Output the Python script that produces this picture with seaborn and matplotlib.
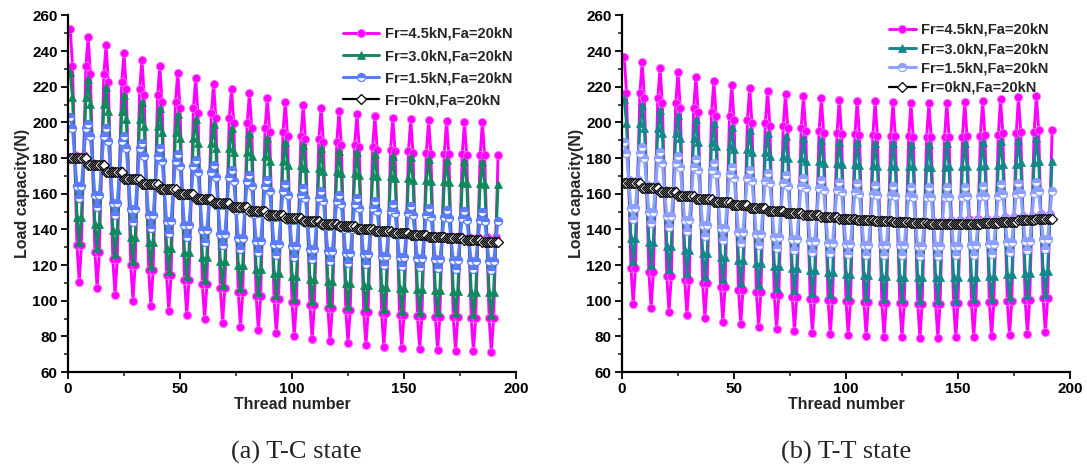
import numpy as np
import matplotlib
matplotlib.use("Agg")
import matplotlib.pyplot as plt
import seaborn as sns
from matplotlib.ticker import MultipleLocator

sns.set_theme(style="ticks")
plt.rcParams['font.family'] = ['Liberation Sans', 'DejaVu Sans']
plt.rcParams['font.weight'] = 'bold'
plt.rcParams['axes.labelweight'] = 'bold'

# ---------------- data ----------------
threads = np.arange(1, 193)                      # thread number 1..192 (8 threads per turn)
phase_profile = [1.0, 0.71, 0.0, -0.71, -1.0, -0.71, 0.0, 0.71]   # within-turn shape

# (a) T-C state : per-turn peak (thread 1+8k) and trough (thread 5+8k)
tc_peak_45 = [252.5, 247.8, 243.2, 238.9, 235.2, 231.4, 227.9, 224.7, 221.7, 218.9, 216.3, 213.9,
              211.7, 209.7, 208.0, 206.4, 204.9, 203.6, 202.7, 201.7, 201.2, 200.8, 200.2, 200.2]
tc_trough_45 = [110.6, 106.9, 103.2, 100.0, 97.0, 94.3, 91.8, 89.5, 87.5, 85.4, 83.3, 81.7,
                80.0, 78.5, 77.2, 76.0, 75.1, 74.1, 73.4, 72.8, 72.3, 71.9, 71.7, 71.5]
tc_peak_30 = [228.2, 224.2, 219.8, 215.6, 211.6, 207.9, 204.5, 201.7, 198.9, 196.7, 193.9, 191.1,
              189.0, 187.3, 185.6, 184.1, 183.2, 182.3, 181.3, 180.4, 179.5, 178.9, 178.4, 178.0]
tc_trough_30 = [133.1, 129.4, 126.0, 122.5, 119.5, 116.5, 114.0, 111.5, 109.0, 107.0, 105.0, 103.0,
                101.0, 99.6, 98.5, 97.3, 96.2, 95.3, 94.5, 93.9, 93.4, 93.0, 92.6, 92.2]
tc_peak_15 = [203.2, 199.1, 196.7, 192.4, 188.3, 185.5, 182.1, 178.9, 176.1, 173.3, 170.5, 167.7,
              165.5, 163.5, 161.5, 159.5, 157.5, 155.8, 154.3, 153.0, 151.8, 150.9, 150.2, 149.6]
tc_trough_15 = [157.8, 152.7, 148.0, 144.3, 141.0, 138.0, 135.5, 133.0, 131.0, 129.0, 127.3, 125.8,
                124.5, 123.3, 122.3, 121.4, 120.6, 119.9, 119.3, 118.8, 118.4, 118.0, 117.7, 117.4]
tc_zero = [180.0, 176.0, 172.0, 168.5, 165.5, 162.5, 159.8, 157.2, 154.8, 152.4, 150.2, 148.3,
           146.5, 144.8, 143.2, 141.8, 140.5, 139.2, 138.1, 137.0, 136.0, 135.0, 134.0, 133.2]

# (b) T-T state
tt_peak_45 = [236.9, 233.7, 230.7, 228.1, 225.5, 223.2, 221.0, 219.3, 217.6, 216.0, 214.6, 213.5,
              212.7, 212.1, 211.8, 211.6, 210.7, 210.7, 211.0, 211.6, 212.2, 213.0, 214.1, 215.0]
tt_trough_45 = [98.1, 96.0, 93.8, 91.9, 90.1, 88.2, 86.7, 85.2, 83.9, 82.9, 82.0, 81.3,
                80.7, 80.0, 79.6, 79.4, 79.2, 79.2, 79.4, 79.6, 80.0, 80.7, 81.4, 82.2]
tt_peak_30 = [213.0, 209.8, 207.0, 204.2, 201.8, 199.5, 197.6, 195.8, 193.9, 192.4, 191.1, 190.0,
              189.3, 188.8, 188.5, 188.3, 188.0, 188.0, 188.2, 188.5, 189.0, 189.6, 190.4, 191.3]
tt_trough_30 = [122.0, 120.0, 117.6, 115.8, 113.8, 111.9, 110.2, 108.8, 107.0, 105.8, 104.5, 103.5,
                102.6, 101.8, 101.2, 100.8, 100.4, 100.3, 100.4, 100.7, 101.2, 102.0, 103.0, 104.0]
tt_peak_15 = [189.1, 186.3, 183.5, 181.1, 179.3, 177.1, 175.2, 173.4, 171.9, 170.6, 169.1, 167.8,
              166.7, 165.8, 165.0, 164.3, 163.8, 163.6, 163.7, 164.0, 164.5, 165.2, 166.0, 166.8]
tt_trough_15 = [145.9, 143.5, 141.1, 138.9, 136.3, 134.3, 132.6, 131.2, 129.7, 128.4, 127.3, 126.6,
                126.0, 125.6, 125.4, 125.4, 125.2, 125.2, 125.4, 125.8, 126.4, 127.2, 128.2, 129.2]
tt_zero = [165.8, 163.5, 161.2, 159.0, 157.0, 155.2, 153.5, 152.0, 150.5, 149.2, 148.0, 147.0,
           146.0, 145.2, 144.5, 143.9, 143.5, 143.2, 143.1, 143.2, 143.5, 144.1, 145.0, 146.0]

labels = ["Fr=4.5kN,Fa=20kN", "Fr=3.0kN,Fa=20kN", "Fr=1.5kN,Fa=20kN", "Fr=0kN,Fa=20kN"]
captions = ["(a) T-C state", "(b) T-T state"]
x_label = "Thread number"
y_label = "Load capacity(N)"
x_ticks = [0, 50, 100, 150, 200]
y_ticks = [60, 80, 100, 120, 140, 160, 180, 200, 220, 240, 260]


def wave(peaks, troughs):
    n = len(threads)
    p = np.repeat(np.asarray(peaks), 8)[:n]
    t = np.repeat(np.asarray(troughs), 8)[:n]
    prof = np.tile(phase_profile, len(peaks))[:n]
    return (p + t) / 2 + (p - t) / 2 * prof


def steps(vals):
    return np.repeat(np.asarray(vals), 8)[:len(threads)]


panels = [
    dict(series=[wave(tc_peak_45, tc_trough_45), wave(tc_peak_30, tc_trough_30),
                 wave(tc_peak_15, tc_trough_15), steps(tc_zero)],
         colors=["#FF00FF", "#0F8A5C", "#5C7CFF", "black"],
         rect=[68 / 1087, 1 - 372 / 469, 448 / 1087, 356.5 / 469],
         leg=(343 / 1087, 1 - 27 / 469), handlelength=2.5, labelspacing=0.55,
         cap_x=296 / 1087),
    dict(series=[wave(tt_peak_45, tt_trough_45), wave(tt_peak_30, tt_trough_30),
                 wave(tt_peak_15, tt_trough_15), steps(tt_zero)],
         colors=["#FF00FF", "#14878A", "#8EA0FF", "black"],
         rect=[622 / 1087, 1 - 372 / 469, 448 / 1087, 356.5 / 469],
         leg=(889 / 1087, 1 - 23 / 469), handlelength=1.85, labelspacing=0.36,
         cap_x=846 / 1087),
]

fig = plt.figure(figsize=(10.87, 4.69), dpi=100)
fig.patch.set_facecolor("white")

for pan in panels:
    ax = fig.add_axes(pan["rect"])
    ax.set_facecolor("white")
    c = pan["colors"]
    styles = [
        dict(marker="o", markersize=5.8, markerfacecolor=c[0], markeredgecolor="#FF66FF",
             markeredgewidth=0.6, linewidth=2.1),
        dict(marker="^", markersize=6.0, markerfacecolor=c[1], markeredgecolor=c[1],
             markeredgewidth=0.5, linewidth=2.1),
        dict(marker="o", markersize=5.8, markerfacecolor=c[2], markerfacecoloralt="white",
             fillstyle="top", markeredgecolor=c[2], markeredgewidth=0.9, linewidth=2.2),
        dict(marker="D", markersize=5.0, markerfacecolor="white", markeredgecolor="black",
             markeredgewidth=0.9, linewidth=1.6),
    ]
    for vals, col, lab, st in zip(pan["series"], c, labels, styles):
        sns.lineplot(x=threads, y=vals, ax=ax, color=col, label=lab,
                     estimator=None, sort=False, **st)

    ax.set_xlim(0, 200)
    ax.set_ylim(60, 260)
    ax.set_xticks(x_ticks)
    ax.set_yticks(y_ticks)
    ax.xaxis.set_minor_locator(MultipleLocator(25))
    ax.yaxis.set_minor_locator(MultipleLocator(10))
    ax.tick_params(axis="both", which="major", length=5, width=1.3, labelsize=11,
                   direction="out", pad=2.5, colors="black")
    ax.tick_params(axis="both", which="minor", length=2.8, width=1.2, direction="out")
    for lab in ax.get_xticklabels() + ax.get_yticklabels():
        lab.set_fontweight("bold")
    for side in ["top", "right"]:
        ax.spines[side].set_visible(False)
    for side in ["left", "bottom"]:
        ax.spines[side].set_linewidth(1.6)
        ax.spines[side].set_color("black")
    ax.set_xlabel(x_label, fontsize=11.5, fontweight="bold", labelpad=0.5)
    ax.set_ylabel(y_label, fontsize=11.5, fontweight="bold", labelpad=1.5)

    handles, labs = ax.get_legend_handles_labels()
    ax.legend(handles, labs, loc="upper left", bbox_to_anchor=pan["leg"],
              bbox_transform=fig.transFigure, frameon=False, borderpad=0,
              borderaxespad=0, handlelength=pan["handlelength"], handletextpad=0.35,
              labelspacing=pan["labelspacing"], prop=dict(weight="bold", size=10.5))

for pan, cap in zip(panels, captions):
    fig.text(pan["cap_x"], 1 - 452 / 469, cap, ha="center", va="center",
             family=["Liberation Serif", "DejaVu Serif"], fontweight="normal", fontsize=19)

fig.savefig("out.png", dpi=100, facecolor="white")
